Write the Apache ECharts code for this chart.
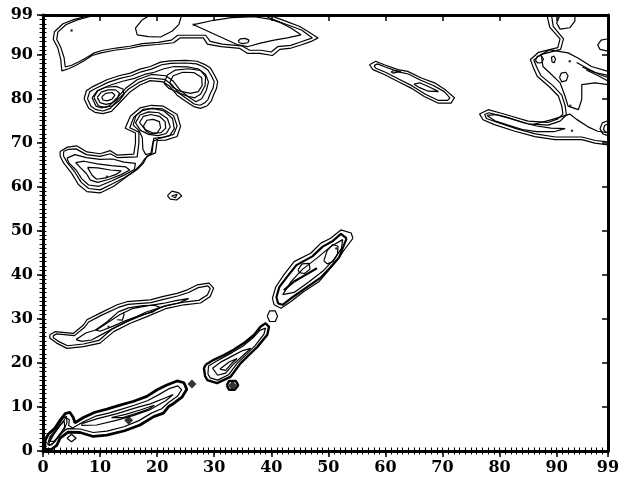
<!DOCTYPE html>
<html>
<head>
<meta charset="utf-8">
<script src="https://cdn.jsdelivr.net/npm/echarts@6/dist/echarts.min.js"></script>
<style>
  html, body { margin: 0; padding: 0; background: #fff; }
  #chart { width: 624px; height: 482px; }
</style>
</head>
<body>
<div id="chart"></div>
<script>
// axis range / ticks
const axisMin = 0;
const axisMax = 99;
const majorStep = 10;
const minorStep = 1;

// contour rings, [x, y] in grid units
const topBand = [
  [[8.5,99],[5.5,98],[3.5,97],[2,95.2],[1.8,93.5],[2.6,91.5],[3.1,89],[3.3,86.3],[4.5,86.8],[5.8,87.6],[7.2,88.6],[8.6,89.8],[10.2,90.4],[12.5,91],[15,91.4],[17.2,92],[20,92.3],[22.9,92.7],[24,93.8],[28.1,93.8],[28.8,92.4],[31.2,91.8],[34.5,91.4],[35.8,90.3],[38,90.3],[40.2,89.8],[41.5,91.2],[43.5,91.5],[45.2,92.2],[47,93],[48.2,93.8],[46.5,95.2],[45,96.4],[41.7,98],[39.5,99]],
  [[9.2,99],[6,97.9],[4,96.8],[2.6,95.1],[2.4,93.5],[3.1,91.7],[3.7,89.3],[3.9,87.2],[5,87.6],[6.3,88.4],[7.6,89.3],[9,90.4],[10.5,91],[12.8,91.5],[15.2,91.9],[17.4,92.5],[20.2,92.8],[22.5,93.3],[23.6,94.4],[28.5,94.4],[29.3,93],[31.4,92.4],[34.8,92],[36.2,91],[38.2,91],[40,90.6],[41.1,91.8],[43.4,92.1],[45,92.8],[47.2,93.8],[45.3,95.6],[41.5,97.4],[38.5,99]],
  [[18.8,99],[17.3,97.8],[16.2,96],[16.5,94.5],[18.5,94.1],[20.6,94],[22.6,95.3],[23.8,96.8],[24.3,99]],
  [[26.4,96.8],[29.9,97.8],[33,98.4],[37,98.6],[40,98],[41.7,97.2],[43.5,96],[45.2,94.5],[42.8,93.8],[40.5,93.3],[38.1,92.6],[35.8,91.8],[34,92.3],[26.4,96.8]],
  [[34.2,93.1],[34.6,93.6],[35.4,93.7],[36.1,93.3],[35.9,92.7],[35,92.5],[34.4,92.7],[34.2,93.1]]
];

const upperS = [
  [[7.2,80],[7.6,81.8],[8.8,82.8],[11.2,84.3],[13.3,85.2],[15.3,85.8],[17,86.7],[18.8,87.3],[20.6,88.3],[22.3,88.6],[25,88.7],[27,88.5],[28.3,87.8],[29.3,87],[30,85.5],[30.6,83.9],[30.4,82.3],[29.9,80.9],[29.5,79.5],[28.8,78.4],[27.6,77.8],[26.4,78.2],[25,79.4],[23.5,80.8],[22.2,82.8],[21.1,83.8],[18.8,84.1],[17,83.1],[15.3,81.6],[13.6,79.3],[12,77.1],[10.5,76.6],[9.1,76.9],[8,77.8],[7.2,80]],
  [[7.8,80],[8.2,81.6],[9.2,82.3],[11.4,83.7],[13.5,84.6],[15.5,85.2],[17.2,86.1],[19,86.7],[20.8,87.7],[22.4,88],[25,88.1],[26.9,87.9],[28,87.3],[28.9,86.5],[29.5,85.2],[30,83.9],[29.8,82.4],[29.3,81.1],[28.9,79.8],[28.3,79],[27.5,78.5],[26.5,78.8],[25.2,80],[23.8,81.3],[22.5,83.3],[21.3,84.4],[18.7,84.7],[16.8,83.7],[15,82.2],[13.2,79.9],[11.8,77.8],[10.5,77.2],[9.3,77.5],[8.4,78.3],[7.8,80]],
  [[8.6,80.2],[9.5,81.8],[11.6,83],[13.8,83.9],[16,84.6],[17.8,85.5],[19.5,86],[21.2,86.8],[23,87.3],[25.5,87.2],[27.3,86.7],[28.5,85.5],[29,83.8],[28.6,81.8],[27.8,80],[26.8,79.3],[25.5,80.4],[24,82],[22.8,84],[21.5,85.2],[19,85.5],[16.5,84.3],[14.6,82.5],[13,80.2],[11.6,78.4],[10.3,77.9],[9.3,78.3],[8.6,80.2]],
  [[8.9,80.3],[9.6,81.8],[11,82.6],[12.8,82.8],[14,82.2],[14.2,81],[13.4,79.6],[12.2,78.4],[10.9,78],[9.7,78.4],[8.9,80.3]],
  [[9.5,80.3],[10.2,81.5],[11.4,82],[12.7,82],[13.4,81.3],[13,80],[12.1,79],[11,78.7],[10,79.1],[9.5,80.3]],
  [[10.3,80.4],[11,81.2],[12.1,81.4],[12.6,80.8],[12.1,79.9],[11.2,79.5],[10.5,79.7],[10.3,80.4]],
  [[21.2,83.5],[21.8,85.4],[23.2,86.5],[25.5,86.8],[27.6,86.4],[28.5,85],[28.4,83],[27.6,81],[26.6,80.2],[25.2,80.6],[23.5,81.5],[22,82.4],[21.2,83.5]],
  [[22.2,83.6],[22.8,85.2],[24.5,86],[26.5,85.9],[27.8,84.8],[27.9,83],[27.2,81.6],[25.8,81.2],[24,81.7],[22.7,82.6],[22.2,83.6]]
];

const middleS = [
  [[3,68],[4.3,69],[5.9,69.3],[7.7,67.9],[10,67.5],[11.8,68.2],[13,67.2],[15.9,67.4],[16.2,69.9],[16.2,72.2],[14.4,73.3],[15.3,76],[17,77.9],[19,78.5],[21.1,78.3],[23.5,76.4],[24.1,73.7],[23.5,71.4],[21.5,70.6],[20,70.5],[19.7,67.7],[18.2,66.9],[17.6,65.4],[16.5,63.9],[14.7,62.3],[12.4,60.1],[10,58.6],[7.7,58.9],[6.2,60.5],[5,63.1],[3.6,65.4],[3,67],[3,68]],
  [[3.6,68],[4.5,68.5],[5.8,68.6],[7.6,67.3],[10,66.9],[11.8,67.5],[13.1,66.6],[16.5,66.8],[16.8,69.9],[16.8,72.4],[15.2,73.4],[15.9,75.8],[17.4,77.3],[19,77.8],[20.9,77.7],[22.9,76.1],[23.5,73.8],[22.9,71.9],[21.3,71.3],[19.4,71],[19.1,67.7],[17.8,66.3],[17.1,65],[16,63.6],[14.3,62.1],[12.2,60.7],[10,59.3],[8,59.6],[6.7,61],[5.6,63.3],[4.2,65.6],[3.6,67],[3.6,68]],
  [[16.8,72.8],[15.8,74],[16.3,76.2],[17.6,77.6],[19.3,77.8],[21.2,77.2],[22.7,75.5],[23,73.2],[22.2,71.6],[20.4,71],[19.3,70.3],[18.9,67.6],[18,67.3],[17.5,68.5],[17.4,71.2],[16.8,72.8]],
  [[16.2,74.5],[17,76.3],[18.5,77],[20.3,76.8],[21.8,75.5],[22.3,73.6],[21.6,72.1],[20.2,71.6],[18.5,71.9],[17.1,72.8],[16.2,74.5]],
  [[16.9,74.6],[17.6,76],[18.9,76.4],[20.4,76],[21.4,74.8],[21.5,73.3],[20.7,72.3],[19.3,72.2],[17.9,73],[16.9,74.6]],
  [[17.6,73.8],[18.2,75.1],[19.3,75.3],[20.4,74.8],[20.6,73.4],[20,72.2],[18.9,72],[18,72.7],[17.6,73.8]],
  [[4.2,66.5],[5.6,67.3],[7.6,66.6],[10,66.2],[12.2,66.3],[14.2,65.6],[16.2,65.3],[16,63.9],[14.3,62.7],[12,61.3],[9.8,60.1],[8,60.4],[6.8,61.8],[5.8,63.8],[4.6,65.3],[4.2,66.5]],
  [[5.7,65.5],[7.2,65.8],[9.5,65.2],[12,64.8],[14.5,64.5],[15.2,63.8],[13.6,62.7],[11.6,61.7],[9.6,61],[8.3,61.5],[7.6,63],[6.6,64.3],[5.7,65.5]],
  [[7.8,64.4],[9.6,64.3],[11.8,63.8],[13.7,63.6],[12.8,62.8],[11,62],[9.4,61.7],[8.6,62.6],[7.8,64.4]],
  [[21.8,58],[22.6,59],[23.8,58.6],[24.3,57.9],[23.4,57],[22.3,57.2],[21.8,58]],
  [[22.5,57.9],[23.5,58.3],[23.2,57.5],[22.5,57.9]]
];

const band85 = [
  [[57.2,87.7],[58.3,88.5],[59.8,87.7],[62.2,86.6],[63.9,86.2],[66.3,84.7],[68.6,83.6],[70.5,82],[72.1,80.2],[71.5,79],[69.2,79],[66.8,80.5],[64.5,82.4],[62.2,83.9],[59.8,85.5],[57.8,86.6],[57.2,87.7]],
  [[58,87.5],[58.6,87.9],[60,87.2],[62.3,86.1],[64,85.6],[66.2,84.2],[68.4,83],[70.3,81.6],[71.3,80.2],[70.9,79.6],[69.3,79.6],[67,81],[64.7,82.9],[62.4,84.4],[60,86],[58.3,86.9],[58,87.5]],
  [[61,86.1],[61.6,86.4],[62.7,86.2],[62.4,85.8],[61.3,85.8],[61,86.1]],
  [[65,83.3],[66,83.6],[67.8,82.6],[69.3,81.6],[69.1,81.3],[67.5,81.7],[66,82.5],[65,83.3]]
];

const topRight = [
  [[88.3,99],[88.8,96.2],[90.6,93.6],[90.2,91.6],[86.8,90.5],[85.4,88.9],[85.9,87.1],[86.6,85.1],[88.8,82.6],[90.3,80.6],[90.9,78.3],[91.1,76.5],[90.2,75.4],[88.5,74.6],[85,74.9],[82.1,76],[80.3,76.7],[78,77.5],[76.5,76.5],[77.1,75.2],[79.1,74.1],[82.7,72.6],[86.2,71.4],[89.7,70.7],[94.4,70.7],[96.7,69.9],[99,69.5]],
  [[89.1,99],[89.4,96.4],[91.2,93.6],[90.7,91.2],[87.2,90],[86,88.8],[86.5,87.2],[87.2,85.3],[89.4,82.9],[90.9,80.8],[91.5,78.4],[91.7,76.3],[90.6,74.9],[88.5,74],[85,74.3],[82.1,75.4],[80.2,76.1],[78.1,76.8],[77.4,76.4],[77.7,75.5],[79.4,74.7],[82.9,73.2],[86.3,72],[89.8,71.3],[94.4,71.3],[96.8,70.5],[99,70.2]],
  [[99,86.2],[96.1,87.3],[93.8,89.2],[92,90.4],[88.8,91.1],[87.3,90],[87.6,87.3],[89.1,85.5],[90.6,83.6],[91.5,80.5],[92,78.3],[93.8,77.5],[94.4,79.8],[94.4,83.2],[96.7,83.6],[99,83.2]],
  [[90.6,99],[90,97.2],[90.6,95.8],[92.3,96.1],[93.2,97.6],[93.2,99]],
  [[99,93.6],[97.8,93.3],[97.2,92.2],[97.6,91.2],[99,90.8]],
  [[86.3,88.6],[86.6,89.6],[87.3,89.8],[87.7,89],[87.4,88.2],[86.7,88.1],[86.3,88.6]],
  [[89.2,88.3],[89.1,89.4],[89.5,89.7],[89.8,89],[89.6,88.2],[89.2,88.3]],
  [[90.5,84.8],[90.8,85.8],[91.6,86],[92,85.2],[91.7,84.1],[90.9,83.8],[90.5,84.8]],
  [[93.5,88.2],[95.5,86.8],[97.5,85.5],[99,84.8]],
  [[94.5,87.2],[96.5,86],[99,85.3]],
  [[95.2,86.5],[97.3,85.2],[99,84]],
  [[99,75],[98,74.5],[97.6,73.2],[98.1,72],[99,71.6]],
  [[99,74.3],[98.4,73.9],[98.2,73.1],[98.6,72.4],[99,72.2]],
  [[77.8,76.2],[79.4,76.4],[81.5,75.7],[84,74.6],[86.5,73.8],[89,73.3],[91.5,73.2],[89.5,72.5],[86.5,72.5],[84,73],[81.5,74],[79.3,74.9],[77.8,76.2]],
  [[86,74.2],[89,75.2],[92.3,76.5],[93.5,75.3],[95.5,73.6],[97.2,72.6],[99,72.3]]
];

const band30 = [
  [[1.2,26.4],[2.1,27.1],[5.3,26.7],[7.1,28.6],[7.7,29.8],[10,31.3],[13,33.2],[14.7,33.9],[18.8,34.3],[21.1,35.1],[23.5,35.8],[25.3,36.6],[27,37.7],[29.1,38.1],[29.9,37],[29.3,35.1],[27.6,33.6],[24.7,33.2],[21.7,32.4],[18.2,30.5],[15.3,29],[12.4,27.1],[10,24.5],[7.1,23.7],[4.2,23.3],[2.4,24.5],[1.2,25.6],[1.2,26.4]],
  [[1.8,26.2],[2.4,26.6],[5.5,26.2],[7.3,28.1],[8,29.3],[10.2,30.8],[13.2,32.6],[14.9,33.3],[18.9,33.7],[21.3,34.5],[23.6,35.2],[25.5,36],[27.2,37.1],[28.9,37.5],[29.3,36.9],[28.8,35.4],[27.3,34.2],[24.6,33.8],[21.5,33],[18,31.1],[15.1,29.6],[12.1,27.7],[9.8,25.1],[7.1,24.3],[4.3,23.9],[2.7,24.9],[1.8,25.7],[1.8,26.2]],
  [[5.8,25.3],[7.5,26.8],[9.5,27.6],[11.5,29.3],[13.5,31],[15.8,32.4],[18.5,33],[21,33.5],[23.5,34.2],[25.5,34.6],[23.8,33.6],[21,32.8],[18,31.5],[15.5,29.9],[13,28.3],[10.5,26.6],[8.5,25.2],[6.8,24.9],[5.8,25.3]],
  [[9.2,27.5],[11.3,29.4],[13.2,31.6],[15,32.5],[17.5,33],[19.5,33.1],[20.5,32.6],[19.3,31.6],[17,30.8],[14.5,29.6],[12.2,28.3],[10,27.2],[9.2,27.5]],
  [[13,29.8],[13.9,29.7],[14.2,30.9],[14.1,31.4]]
];

const diagLow = [
  [[1,1.2],[1.3,3],[2.3,4.6],[3.3,6.3],[4,7.6],[4.6,7.1],[4.5,5.8],[5.2,5.2],[7,6.6],[9.2,7.9],[11.5,8.6],[13.8,9.5],[16,10.4],[18.3,11.4],[20.3,12.8],[22,14.1],[23.6,14.8],[24.3,13.9],[23.6,12.5],[22,11],[20.8,9.6],[19,8.6],[16.8,6.9],[14.2,5.5],[11.2,4.5],[8.8,4.2],[6.5,5],[4.3,5.1],[2.9,3.8],[2,2],[1,1.2]],
  [[6.8,6.2],[9.4,7.3],[13,8.5],[16.5,9.9],[18.8,10.7],[21.7,12.2],[22.8,12.8],[21.5,11.4],[18.8,9.4],[15.9,8.1],[13,7],[9.4,5.9],[6.8,5.8],[6.8,6.2]],
  [[12,7.6],[14.5,8.3],[17,9.3],[19.5,10.4],[18.5,9.5],[16.5,8.6],[14,7.6],[12,7.6]],
  [[0.8,1.5],[1.2,3.2],[2.5,5.3],[3.4,7.3],[4.1,7.9],[4.2,6.5],[3.6,4.5],[2.5,2.8],[1.5,1.4],[0.8,1.5]],
  [[1.2,2.2],[2,4],[3,5.8],[3.7,6.9],[3.8,5.5],[2.9,3.6],[1.9,2.2],[1.2,2.2]],
  [[4.2,2.9],[5,3.8],[5.8,2.9],[5,2.1],[4.2,2.9]]
];
const diagLowOuter = [
  [[0.3,0.3],[0.4,2.5],[0.9,3.8],[2.1,5.2],[3,7],[3.9,8.5],[4.7,8.8],[5.3,7.6],[5.6,6.4],[7.1,7.6],[9.1,8.8],[11.2,9.5],[13.5,10.4],[15.9,11.3],[18.2,12.4],[20,13.9],[21.7,15],[23.5,15.9],[24.7,15.5],[25.2,14],[24.4,12.3],[22.9,10.8],[22,10.1],[21.1,8.6],[19.4,7.8],[17,5.9],[14.3,4.6],[11.2,3.6],[8.8,3.3],[6.5,4.2],[4.4,4.3],[3,2.9],[2.4,1.3],[1.5,0.4],[0.3,0.3]]
];

const diagMid = [
  [[29,19.3],[28.9,17.5],[29.3,16.6],[30.6,16.1],[32.5,17.3],[34.1,20],[35.7,22],[37.2,24],[38.7,26.5],[39,27.9],[38.7,28.3],[38,27.4],[36.8,25.7],[35,23.8],[33.2,22.4],[31.5,21.2],[30,20.1],[29,19.3]],
  [[29.7,18.8],[30.6,17.2],[32,17.7],[33.3,19.6],[34.8,21.4],[36.4,23.3],[35,22.8],[33.2,21.6],[31.3,20.3],[29.7,18.8]],
  [[31,18.6],[32,18.3],[33,19.8],[34,21],[32.6,20.2],[31,18.6]],
  [[39.3,30.6],[39.7,31.8],[40.7,31.8],[41.1,30.6],[40.7,29.4],[39.7,29.4],[39.3,30.6]]
];
const diagMidOuter = [
  [[28.5,19.6],[28.2,18.8],[28.4,17],[28.8,16.1],[30.5,15.4],[32.9,16.9],[34.6,19.9],[36.1,21.8],[37.6,23.7],[39.3,26.4],[39.6,28.2],[39,29],[38.1,28.2],[37,26.4],[35.2,24.5],[33.4,23],[31.7,21.8],[29.9,20.7],[28.5,19.6]],
  [[32.2,14.9],[32.6,15.9],[33.8,15.9],[34.2,14.9],[33.6,13.9],[32.6,13.9],[32.2,14.9]]
];

const diagHigh = [
  [[54.3,48.3],[54,49.5],[52.2,50.2],[50.4,48.3],[48.7,47.2],[46.9,44.9],[44,43],[42.2,40],[40.8,37.3],[40.2,34.7],[40.5,33.2],[41.7,32.4],[43.4,33.9],[45.7,36.2],[48.4,38.5],[49.9,40.8],[51.6,43.4],[52.8,45.7],[54.3,48.3]],
  [[42,35.5],[43.5,38.5],[45.5,41.3],[48,43.8],[50.5,46.5],[52.5,48],[52.3,46],[51,43.5],[49,40.8],[46.5,38.3],[44,36],[42,35.5]],
  [[49.2,43.2],[49.8,45.5],[50.8,46.9],[51.7,46.5],[51.6,44.7],[50.8,43],[49.8,42.5],[49.2,43.2]],
  [[44.7,41.2],[45.4,42.5],[46.6,42.6],[46.8,41.3],[45.8,40.3],[44.9,40.5],[44.7,41.2]]
];
const diagHighDark = [
  [[53.2,48.3],[52.2,49.3],[50.8,47.7],[49,46.4],[47.2,44.2],[44.4,42.2],[42.8,39.6],[41.4,37.2],[40.9,34.9],[41.2,33.5],[42,33.2],[43.6,34.8],[46,37],[48.6,39.3],[50.3,41.6],[51.9,44],[53.2,48.3]],
  [[42.2,36.5],[44,38.5],[46,40],[48,41.5]]
];

// peak dots and small filled blobs
const peakDots = [[5,95.5],[26.4,96.8],[11.2,62.3],[11.5,28.2],[92.3,88.5],[92.4,78.4],[92.7,72.7],[51.4,46]];
const filledBlobs = [[26.1,15.2],[15,7],[33.2,14.9]];

var chart = echarts.init(document.getElementById('chart'));

function ringSeries(rings, width) {
  return rings.map(function (r) {
    return {
      type: 'line',
      data: r,
      symbol: 'none',
      silent: true,
      lineStyle: { color: '#000', width: width }
    };
  });
}

var labelFont = {
  color: '#000',
  fontFamily: 'DejaVu Serif',
  fontWeight: 'bold',
  fontSize: 16
};

function mainAxis(pos, withLabels, tickInside) {
  return {
    type: 'value',
    position: pos,
    min: axisMin,
    max: axisMax,
    interval: majorStep,
    axisLine: { show: true, onZero: false, lineStyle: { color: '#000', width: 3 } },
    axisTick: { show: true, inside: tickInside, length: 6, lineStyle: { color: '#000', width: 1.5 } },
    axisLabel: Object.assign({ show: withLabels, margin: pos === 'bottom' ? 9 : 10, showMaxLabel: true, showMinLabel: true }, labelFont),
    splitLine: { show: false }
  };
}
function minorAxis(pos) {
  return {
    type: 'value',
    position: pos,
    min: axisMin,
    max: axisMax,
    interval: minorStep,
    axisLine: { show: false },
    axisTick: { show: true, inside: true, length: 3.5, lineStyle: { color: '#000', width: 1 } },
    axisLabel: { show: false },
    splitLine: { show: false }
  };
}

var series = []
  .concat(ringSeries(topBand, 1.2))
  .concat(ringSeries(upperS, 1.2))
  .concat(ringSeries(middleS, 1.2))
  .concat(ringSeries(band85, 1.2))
  .concat(ringSeries(topRight, 1.2))
  .concat(ringSeries(band30, 1.2))
  .concat(ringSeries(diagLow, 1.2))
  .concat(ringSeries(diagLowOuter, 2.8))
  .concat(ringSeries(diagMid, 1.2))
  .concat(ringSeries(diagMidOuter, 2.4))
  .concat(ringSeries(diagHigh, 1.2))
  .concat(ringSeries(diagHighDark, 2.2));

series.push({
  type: 'scatter', data: peakDots, symbol: 'circle', symbolSize: 2.5, silent: true,
  itemStyle: { color: '#000' }
});
series.push({
  type: 'scatter', data: filledBlobs, symbol: 'diamond', symbolSize: 9, silent: true,
  itemStyle: { color: '#000' }
});

chart.setOption({
  animation: false,
  backgroundColor: '#fff',
  grid: { left: 43, right: 16, top: 15, bottom: 31 },
  xAxis: [mainAxis('bottom', true, false), minorAxis('bottom'), mainAxis('top', false, true), minorAxis('top')],
  yAxis: [mainAxis('left', true, false), minorAxis('left'), mainAxis('right', false, true), minorAxis('right')],
  series: series
});
</script>
</body>
</html>
